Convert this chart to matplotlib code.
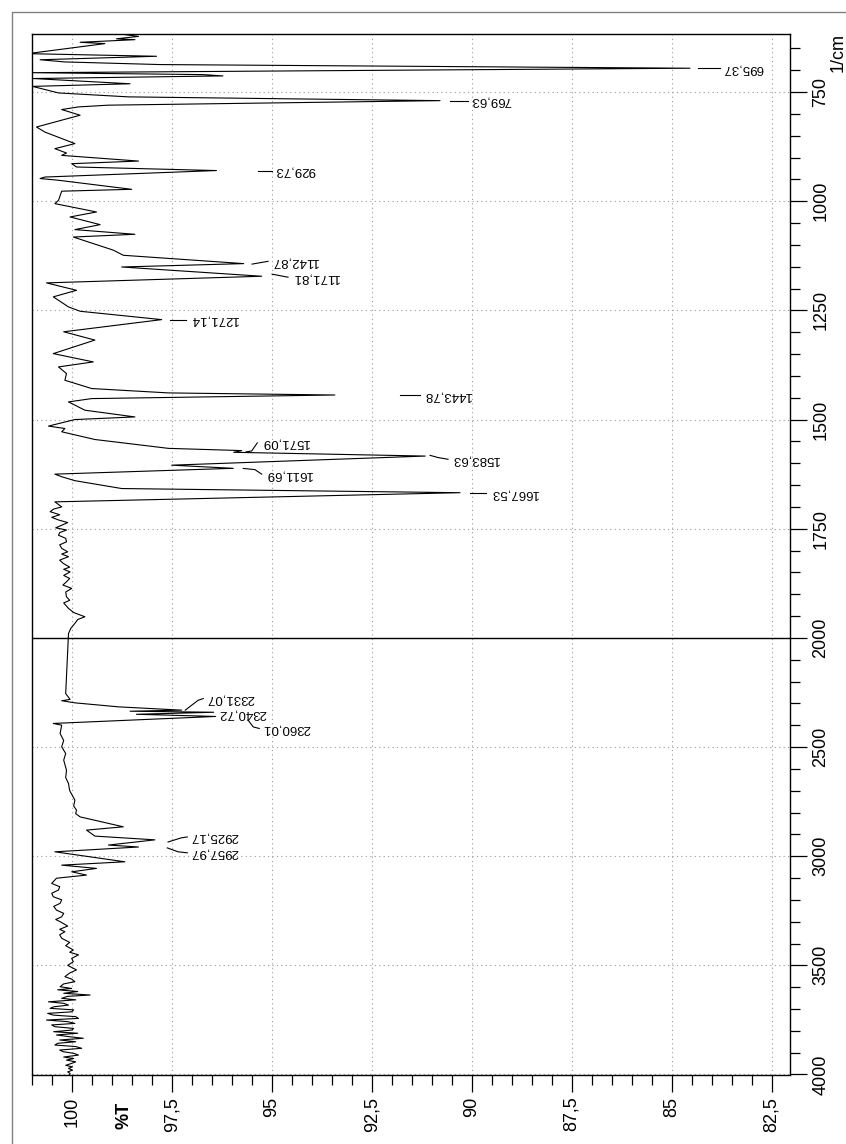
import numpy as np
import matplotlib
matplotlib.use("Agg")
from matplotlib import pyplot as plt
from matplotlib import transforms
from matplotlib.ticker import FuncFormatter
from matplotlib.patches import Rectangle

plt.rcParams['font.family'] = ['Liberation Sans', 'DejaVu Sans']

# IR spectrum as (wavenumber 1/cm, %T) pairs
spectrum = [
    (618, 98.7), (622.5, 98.33), (628, 98.88), (630, 98.42), (636, 99.79), (639, 99.17),
    (662, 101.1), (668, 97.88), (676, 100.79), (681, 100.17), (687, 97.79), (695.37, 84.54),
    (705.6, 101.0), (710, 96.71), (713, 96.22), (719, 100.96), (731, 98.54), (737, 100.98),
    (752, 100.33), (761, 98.58), (769.63, 90.79), (780, 99.09), (784, 99.83), (790, 100.25),
    (803, 99.79), (830, 100.88), (841.6, 100.67), (868, 99.92), (879.6, 100.42),
    (889.6, 100.13), (895, 100.25), (908, 98.33), (914, 100.0), (921.6, 99.88),
    (929.73, 96.38), (944.6, 100.67), (948, 100.79), (952, 100.33), (972.7, 98.5),
    (977, 100.25), (998, 100.33), (1005.5, 100.42), (1024.6, 99.38), (1036, 100.04),
    (1053.6, 99.29), (1065, 99.92), (1075.7, 98.42), (1082, 99.96), (1112, 98.96),
    (1123.8, 98.71), (1142.87, 95.7), (1150.6, 98.75), (1171.81, 95.25), (1187, 100.63),
    (1204, 99.88), (1219, 100.46), (1242, 100.08), (1252, 99.79), (1271.14, 97.75),
    (1299, 100.2), (1318, 99.42), (1349, 100.46), (1368, 99.46), (1379.5, 100.33),
    (1394.6, 100.13), (1410, 100.17), (1429, 99.5), (1439, 97.58), (1443.78, 93.42),
    (1452, 99.5), (1459.6, 100.08), (1478.6, 99.67), (1494, 98.42), (1500, 99.92),
    (1515, 100.58), (1520.5, 100.17), (1528, 100.25), (1545.7, 99.42), (1566, 97.58),
    (1571.09, 95.75), (1575, 95.95), (1583.63, 91.16), (1604.5, 97.5), (1611.69, 95.96),
    (1625, 100.42), (1631, 100.25), (1640, 99.92), (1658, 98.75), (1667.53, 90.29),
    (1688.5, 100.42), (1700, 100.25), (1705, 100.45), (1711, 100.54), (1718, 100.3),
    (1724, 100.5), (1730, 100.33), (1736, 100.1), (1742, 100.25), (1748, 100.4),
    (1753, 100.13), (1759, 100.3), (1765, 100.33), (1772, 100.15), (1780, 100.13),
    (1787, 100.3), (1795, 100.25), (1803, 100.1), (1808, 100.25), (1814, 100.08),
    (1822, 100.3), (1829.5, 100.21), (1838, 100.05), (1843, 100.2), (1849, 100.04),
    (1857, 100.2), (1864, 100.05), (1871.6, 100.13), (1879, 100.22), (1886.7, 100.0),
    (1895, 100.15), (1906, 100.13), (1914, 100.05), (1920, 100.2), (1932.5, 100.08),
    (1942, 99.95), (1951.7, 99.67), (1958, 99.85), (1966.8, 99.92), (1978, 100.02),
    (1990, 100.08), (2056, 100.1), (2163, 100.13), (2255, 100.15), (2282, 100.04),
    (2288, 100.25), (2297.6, 99.92), (2316, 98.83), (2331.07, 97.25), (2336, 98.54),
    (2340.72, 96.45), (2350, 98.38), (2360.01, 96.4), (2392, 100.46), (2400, 100.25),
    (2438, 100.29), (2470, 100.2), (2499, 100.25), (2530, 100.15), (2560, 100.2),
    (2606, 100.13), (2640, 100.15), (2667, 100.08), (2700, 100.05), (2743, 99.92),
    (2770, 99.95), (2789, 99.88), (2805, 99.9), (2820, 99.79), (2842.6, 99.25),
    (2865.4, 98.71), (2880.6, 99.63), (2908, 99.42), (2925.17, 97.92), (2949, 99.08),
    (2957.97, 98.33), (2980, 100.42), (3025.7, 98.67), (3041, 100.25), (3056, 99.38),
    (3071.5, 100.0), (3086.6, 99.63), (3101, 100.38), (3124.6, 100.5), (3140, 100.3),
    (3155, 100.33), (3170, 100.5), (3185.7, 100.46), (3200, 100.25), (3216, 100.29),
    (3230, 100.45), (3247, 100.38), (3262, 100.2), (3277.6, 100.25), (3290, 100.4),
    (3300, 100.29), (3320, 100.1), (3335, 100.3), (3346, 100.17), (3360, 100.3),
    (3376, 100.25), (3395, 100.05), (3410, 100.15), (3429.5, 99.96), (3440, 100.05),
    (3452, 99.83), (3468, 100.0), (3483.6, 99.96), (3500, 100.1), (3521, 99.88),
    (3535, 100.05), (3552, 100.17), (3563, 100.0), (3575, 99.92), (3585, 100.2),
    (3598, 100.29), (3606, 100.0), (3612, 100.35), (3620, 99.85), (3628, 100.2),
    (3636, 99.54), (3642, 100.1), (3651, 100.25), (3658, 99.9), (3667, 100.58),
    (3674, 100.2), (3682, 100.08), (3690, 100.45), (3697, 100.54), (3704, 99.95),
    (3713, 100.0), (3720, 100.6), (3728, 100.46), (3735, 99.9), (3743, 99.83),
    (3750.6, 100.63), (3758, 100.1), (3766, 99.92), (3773, 100.5), (3781, 100.42),
    (3789, 99.95), (3796.5, 100.0), (3804, 100.45), (3811, 99.85), (3819, 100.38),
    (3827, 100.05), (3834, 99.71), (3842, 100.3), (3850, 99.9), (3857, 100.35),
    (3865, 100.42), (3872, 99.9), (3880, 99.75), (3888, 100.3), (3895.7, 100.21),
    (3903, 99.95), (3911, 99.83), (3920, 100.2), (3927, 99.95), (3934, 100.13),
    (3942, 99.9), (3949, 100.0), (3958, 100.15), (3965, 99.98), (3972, 100.08),
    (3980, 99.98), (3988, 100.1), (3995, 100.04), (4000, 100.05),
]
wn = [p[0] for p in spectrum]
trans = [p[1] for p in spectrum]

# picked peaks
peak_wn = [695.37, 769.63, 929.73, 1142.87, 1171.81, 1271.14, 1443.78, 1571.09, 1583.63,
           1611.69, 1667.53, 2331.07, 2340.72, 2360.01, 2925.17, 2957.97]

# leader line (T, wn) points, last one is the text anchor
leaders = [
    [(84.34, 696), (83.8, 696)],
    [(90.54, 769.6), (90.09, 769.6)],
    [(95.34, 929.7), (94.99, 929.7)],
    [(95.49, 1144), (95.09, 1137.6)],
    [(94.99, 1167), (94.59, 1174)],
    [(97.54, 1271), (97.14, 1271)],
    [(91.79, 1443.8), (91.29, 1443.8)],
    [(95.64, 1574), (95.5, 1572), (95.36, 1553.5)],
    [(91.04, 1582), (90.84, 1587), (90.59, 1591)],
    [(95.71, 1612), (95.42, 1614.6), (95.25, 1625)],
    [(90.04, 1669), (89.63, 1669)],
    [(97.16, 2331), (96.84, 2286), (96.71, 2278)],
    [(96.42, 2345)],
    [(95.59, 2377), (95.46, 2408), (95.31, 2415)],
    [(97.59, 2935), (97.26, 2916), (97.11, 2912)],
    [(97.61, 2962), (97.34, 2980), (97.11, 2984.5)],
]

x_major = [100, 97.5, 95, 92.5, 90, 87.5, 85, 82.5]
y_major = [750, 1000, 1250, 1500, 1750, 2000, 2500, 3000, 3500, 4000]


# wavenumber axis is stretched 2x below 2000 1/cm
def fwd(w):
    w = np.asarray(w, dtype=float)
    return np.where(w <= 2000, w, 2000 + (w - 2000) / 2)


def inv(p):
    p = np.asarray(p, dtype=float)
    return np.where(p <= 2000, p, 2000 + (p - 2000) * 2)


fig = plt.figure(figsize=(8.46, 11.44), dpi=100)
ax = fig.add_axes([31.7 / 846, 1 - 1074.5 / 1144, (790 - 31.7) / 846, (1074.5 - 34) / 1144])
ax.set_yscale('function', functions=(fwd, inv))
ax.set_xlim(101.0, 82.04)
ax.set_ylim(4000, 617)

ax.yaxis.tick_right()
ax.set_xticks(x_major)
ax.set_xticks(np.arange(82.5, 101.01, 0.5), minor=True)
ax.set_yticks(y_major)
ax.set_yticks([w for w in list(range(650, 2000, 50)) + list(range(2100, 4000, 100))
               if w not in y_major], minor=True)
ax.xaxis.set_major_formatter(FuncFormatter(lambda v, p: f"{v:g}".replace('.', ',')))
ax.yaxis.set_major_formatter(FuncFormatter(lambda v, p: f"{v:g}"))
ax.tick_params(which='major', direction='out', length=12, width=0.9, labelsize=13, pad=4)
ax.tick_params(which='minor', direction='out', length=7, width=0.9)
ax.tick_params(axis='both', labelrotation=90)
for lab in ax.get_yticklabels():
    lab.set_va('center')
for s in ax.spines.values():
    s.set_linewidth(1.0)

ax.grid(True, which='major', color='#9a9a9a', linestyle=(0, (1, 3)), linewidth=0.8)
ax.axhline(2000, color='black', linewidth=1.0)

ax.plot(trans, wn, color='black', linewidth=0.8)

for w, pts in zip(peak_wn, leaders):
    if len(pts) > 1:
        ax.plot([p[0] for p in pts], [p[1] for p in pts], color='black', linewidth=0.8)
    tx, tw = pts[-1]
    ax.text(tx - 0.08, tw, f"{w:.2f}".replace('.', ','), rotation=180, rotation_mode='anchor',
            ha='right', va='center', fontsize=9.5)

blend = transforms.blended_transform_factory(ax.transData, ax.transAxes)
ax.text(98.7, -0.039, '%T', transform=blend, rotation=90, ha='center', va='center',
        fontsize=13, fontweight='bold')
fig.text(838 / 846, 1 - 53 / 1144, '1/cm', rotation=90, ha='center', va='center', fontsize=13)

fig.patches.append(Rectangle((12 / 846, -0.1), 1.2, 1.1 - 12 / 1144, transform=fig.transFigure,
                             fill=False, edgecolor='#808080', linewidth=1.0))

fig.savefig('out.png', dpi=100)
